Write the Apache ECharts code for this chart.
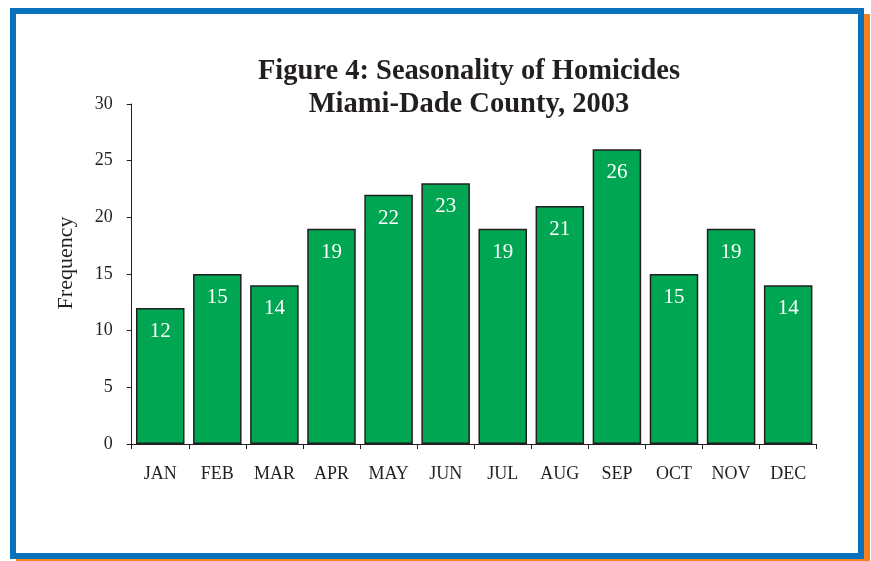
<!DOCTYPE html>
<html>
<head>
<meta charset="utf-8">
<title>Seasonality of Homicides</title>
<script src="https://cdn.jsdelivr.net/npm/echarts@6/dist/echarts.min.js"></script>
<style>
  html, body { margin: 0; padding: 0; background: #ffffff; }
  #chart { width: 871px; height: 561px; }
</style>
</head>
<body>
<div id="chart"></div>
<script>
// Monthly homicide counts, Miami-Dade County, 2003
const months = ['JAN', 'FEB', 'MAR', 'APR', 'MAY', 'JUN', 'JUL', 'AUG', 'SEP', 'OCT', 'NOV', 'DEC'];
const homicides = [12, 15, 14, 19, 22, 23, 19, 21, 26, 15, 19, 14];
const yTicks = [0, 5, 10, 15, 20, 25, 30];

const serif = '"Liberation Serif", "Times New Roman", serif';
const ink = '#231F20';

const chart = echarts.init(document.getElementById('chart'), null, { renderer: 'canvas' });

chart.setOption({
  animation: false,
  backgroundColor: '#ffffff',
  title: {
    text: 'Figure 4: Seasonality of Homicides\nMiami-Dade County, 2003',
    left: 464,
    top: 50,
    textAlign: 'center',
    textStyle: {
      fontFamily: serif,
      fontWeight: 'bold',
      fontSize: 28.5,
      lineHeight: 33,
      color: ink
    }
  },
  // framed panel: orange drop edge behind a blue border
  graphic: [
    {
      type: 'rect',
      z: -20,
      silent: true,
      shape: { x: 16, y: 14, width: 854, height: 551 },
      style: { fill: '#F58220' }
    },
    {
      type: 'rect',
      z: -19,
      silent: true,
      shape: { x: 13, y: 11, width: 848, height: 545 },
      style: { fill: '#ffffff', stroke: '#0A72BD', lineWidth: 6 }
    }
  ],
  grid: {
    left: 131.7,
    right: 54.3,
    top: 104,
    bottom: 117,
    containLabel: false
  },
  xAxis: {
    type: 'category',
    data: months,
    axisLine: { show: true, lineStyle: { color: ink, width: 1 } },
    axisTick: { show: true, length: 5, alignWithLabel: false, lineStyle: { color: ink } },
    axisLabel: {
      fontFamily: serif,
      fontSize: 18,
      color: ink,
      margin: 21
    },
    splitLine: { show: false }
  },
  yAxis: {
    type: 'value',
    min: yTicks[0],
    max: yTicks[yTicks.length - 1],
    interval: yTicks[1] - yTicks[0],
    name: 'Frequency',
    nameLocation: 'middle',
    nameRotate: 90,
    nameGap: 54,
    nameTextStyle: {
      fontFamily: serif,
      fontSize: 22,
      color: ink,
      padding: [0, 0, 0, 22]
    },
    axisLine: { show: true, lineStyle: { color: ink, width: 1 } },
    axisTick: { show: true, length: 5, lineStyle: { color: ink } },
    axisLabel: {
      fontFamily: serif,
      fontSize: 18,
      color: ink,
      margin: 19
    },
    splitLine: { show: false }
  },
  series: [
    {
      type: 'bar',
      data: homicides,
      barCategoryGap: '15%',
      itemStyle: {
        color: '#00A651',
        borderColor: ink,
        borderWidth: 1.5
      },
      label: {
        show: true,
        position: 'insideTop',
        distance: 13,
        color: '#ffffff',
        fontFamily: serif,
        fontSize: 21
      }
    }
  ]
});
</script>
</body>
</html>
